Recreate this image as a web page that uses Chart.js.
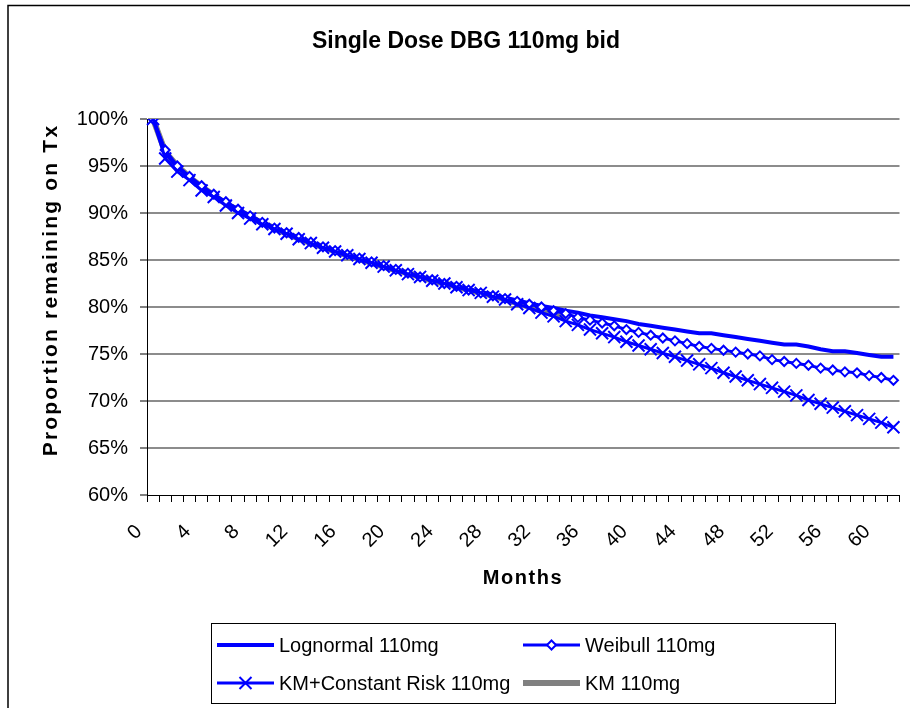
<!DOCTYPE html>
<html>
<head>
<meta charset="utf-8">
<script src="https://cdn.jsdelivr.net/npm/chart.js@4.4.1/dist/chart.umd.min.js"></script>
<style>
  html, body { margin: 0; padding: 0; background: #fff; }
</style>
</head>
<body>
<canvas id="chart" width="910" height="708"></canvas>
<script>
// months 0..61
const months = ['0','1','2','3','4','5','6','7','8','9','10','11','12','13','14','15','16','17','18','19',
  '20','21','22','23','24','25','26','27','28','29','30','31','32','33','34','35','36','37','38','39',
  '40','41','42','43','44','45','46','47','48','49','50','51','52','53','54','55','56','57','58','59','60','61'];

const yTicks = [60, 65, 70, 75, 80, 85, 90, 95, 100];

// proportion remaining, in %
const lognormal = [100, 96.4, 94.9, 93.8, 92.8, 91.9, 91.1, 90.4, 89.7, 89.0,
  88.4, 87.9, 87.3, 86.8, 86.4, 85.9, 85.5, 85.1, 84.7, 84.3,
  83.9, 83.6, 83.2, 82.9, 82.6, 82.2, 81.9, 81.6, 81.3, 81.0,
  80.7, 80.4, 80.1, 79.9, 79.6, 79.4, 79.1, 78.9, 78.7, 78.5,
  78.2, 78.0, 77.8, 77.6, 77.4, 77.2, 77.2, 77.0, 76.8, 76.6,
  76.4, 76.2, 76.0, 76.0, 75.8, 75.5, 75.3, 75.3, 75.1, 74.9, 74.7, 74.7];

const weibull = [100, 96.7, 95.0, 93.9, 92.9, 92.0, 91.2, 90.4, 89.7, 89.0,
  88.4, 87.9, 87.4, 86.9, 86.4, 86.0, 85.6, 85.2, 84.8, 84.4,
  84.0, 83.6, 83.2, 82.9, 82.5, 82.2, 81.8, 81.5, 81.2, 80.9,
  80.6, 80.3, 80.0, 79.6, 79.3, 78.9, 78.6, 78.3, 78.0, 77.6,
  77.3, 77.0, 76.7, 76.4, 76.1, 75.8, 75.6, 75.4, 75.2, 75.0,
  74.8, 74.4, 74.2, 74.0, 73.8, 73.5, 73.3, 73.1, 73.0, 72.7, 72.5, 72.2];

const kmConstRisk = [100, 95.8, 94.4, 93.5, 92.4, 91.7, 90.8, 90.0, 89.4, 88.8,
  88.3, 87.8, 87.2, 86.8, 86.3, 85.9, 85.5, 85.1, 84.7, 84.3,
  83.9, 83.5, 83.2, 82.8, 82.5, 82.1, 81.8, 81.5, 81.1, 80.8,
  80.3, 79.9, 79.4, 79.0, 78.5, 78.1, 77.6, 77.2, 76.8, 76.3,
  75.9, 75.5, 75.1, 74.7, 74.3, 73.9, 73.5, 73.0, 72.6, 72.2,
  71.8, 71.4, 71.0, 70.6, 70.1, 69.7, 69.3, 68.9, 68.5, 68.1, 67.7, 67.2];

const km = [100, 96.5, 95.0, 93.8, 92.8, 91.9, 91.0, 90.3, 89.6, 88.9,
  88.4, 87.8, 87.3, 86.8, 86.4, 85.9, 85.5, 85.1, 84.7, 84.3,
  83.9, 83.6, 83.2, 82.8, 82.5, 82.2, 81.8, 81.5, 81.2, 80.8,
  80.4, 80.0, 79.6, 79.2, 78.9];

const FONT = 'Liberation Sans, Arial, sans-serif';
const BLUE = '#0000ff';
const GRAY = '#808080';

function drawMarker(c, style, x, y, r) {
  c.beginPath();
  if (style === 'rectRot') {
    c.moveTo(x, y - r); c.lineTo(x + r, y); c.lineTo(x, y + r); c.lineTo(x - r, y); c.closePath();
    c.fill(); c.stroke();
  } else if (style === 'crossRot') {
    const d = r * Math.SQRT1_2;
    c.moveTo(x - d, y - d); c.lineTo(x + d, y + d);
    c.moveTo(x + d, y - d); c.lineTo(x - d, y + d);
    c.stroke();
  }
}

// frame, titles and legend box like the spreadsheet chart
const decor = {
  id: 'decor',
  beforeDraw(chart) {
    const c = chart.ctx;
    c.save();
    c.fillStyle = '#fff';
    c.fillRect(0, 0, chart.width, chart.height);
    c.strokeStyle = '#000';
    c.lineWidth = 1.5;
    c.strokeRect(8, 5.5, 1000, 1000);
    c.restore();
  },
  afterDraw(chart) {
    const c = chart.ctx;
    const ds = chart.data.datasets;
    c.save();
    c.fillStyle = '#000';
    c.textAlign = 'center';
    c.textBaseline = 'middle';
    c.font = 'bold 23px ' + FONT;
    c.fillText('Single Dose DBG 110mg bid', 466, 42);

    // axis titles (spaced out a little, as in the original)
    c.font = 'bold 20px ' + FONT;
    c.letterSpacing = '1.6px';
    c.fillText('Months', 523, 578);
    c.save();
    c.translate(51, 290);
    c.rotate(-Math.PI / 2);
    c.font = 'bold 21px ' + FONT;
    c.letterSpacing = '2.2px';
    c.fillText('Proportion remaining on Tx', 0, 0);
    c.restore();
    c.letterSpacing = '0px';

    c.strokeStyle = '#000';
    c.lineWidth = 1;
    c.strokeRect(211.5, 623.5, 624, 80);

    const slots = [[217, 645], [523, 645], [217, 683], [523, 683]];
    const order = [1, 2, 3, 0];
    c.font = '20px ' + FONT;
    c.textAlign = 'left';
    order.forEach((di, k) => {
      const d = ds[di];
      const [x, y] = slots[k];
      c.strokeStyle = d.borderColor;
      c.lineWidth = d.borderWidth;
      c.beginPath();
      c.moveTo(x, y);
      c.lineTo(x + 57, y);
      c.stroke();
      if (d.pointRadius > 0) {
        c.fillStyle = d.pointBackgroundColor;
        c.strokeStyle = d.pointBorderColor;
        c.lineWidth = d.pointBorderWidth;
        drawMarker(c, d.pointStyle, x + 28.5, y, d.pointRadius);
      }
      c.fillStyle = '#000';
      c.fillText(d.label, x + 62, y + 1);
    });
    c.restore();
  }
};

new Chart(document.getElementById('chart'), {
  type: 'line',
  data: {
    labels: months,
    datasets: [
      {
        label: 'KM 110mg', data: km, order: 4,
        borderColor: GRAY, borderWidth: 6, pointRadius: 0, tension: 0
      },
      {
        label: 'Lognormal 110mg', data: lognormal, order: 3,
        borderColor: BLUE, borderWidth: 4, pointRadius: 0, tension: 0
      },
      {
        label: 'Weibull 110mg', data: weibull, order: 2,
        borderColor: BLUE, borderWidth: 3, tension: 0,
        pointStyle: 'rectRot', pointRadius: 4.5, pointBorderWidth: 2,
        pointBackgroundColor: '#fff', pointBorderColor: BLUE
      },
      {
        label: 'KM+Constant Risk 110mg', data: kmConstRisk, order: 1,
        borderColor: BLUE, borderWidth: 3, tension: 0,
        pointStyle: 'crossRot', pointRadius: 8.5, pointBorderWidth: 2,
        pointBackgroundColor: BLUE, pointBorderColor: BLUE
      }
    ]
  },
  options: {
    responsive: false,
    animation: false,
    devicePixelRatio: 1,
    layout: { padding: { top: 119, right: 5, bottom: 103, left: 0 } },
    plugins: {
      legend: { display: false },
      title: { display: false },
      tooltip: { enabled: false }
    },
    scales: {
      x: {
        type: 'category',
        offset: true,
        grid: {
          drawOnChartArea: false, drawTicks: true, offset: true,
          tickLength: 7, tickColor: '#000', tickWidth: 1
        },
        border: { color: '#000', width: 1 },
        ticks: {
          autoSkip: false, minRotation: 45, maxRotation: 45,
          padding: 18, labelOffset: -14,
          color: '#000', font: { family: FONT, size: 20 },
          callback: (v, i) => (i % 4 === 0 ? months[i] : '')
        },
        title: { display: false },
        afterFit: s => { s.height = 110; s.paddingRight = 0; s.paddingLeft = 0; }
      },
      y: {
        min: 60, max: 100,
        afterBuildTicks: s => { s.ticks = yTicks.map(v => ({ value: v })); },
        grid: {
          color: ctx => (ctx.tick && ctx.tick.value === 60 ? 'rgba(0,0,0,0)' : '#8c8c8c'),
          lineWidth: 2, tickColor: '#000', tickLength: 7, tickWidth: 1
        },
        border: { color: '#000', width: 1 },
        ticks: {
          padding: 12, color: '#000', font: { family: FONT, size: 20 },
          callback: v => v + '%'
        },
        title: { display: false },
        afterFit: s => { s.width = 147; }
      }
    }
  },
  plugins: [decor]
});
</script>
</body>
</html>
